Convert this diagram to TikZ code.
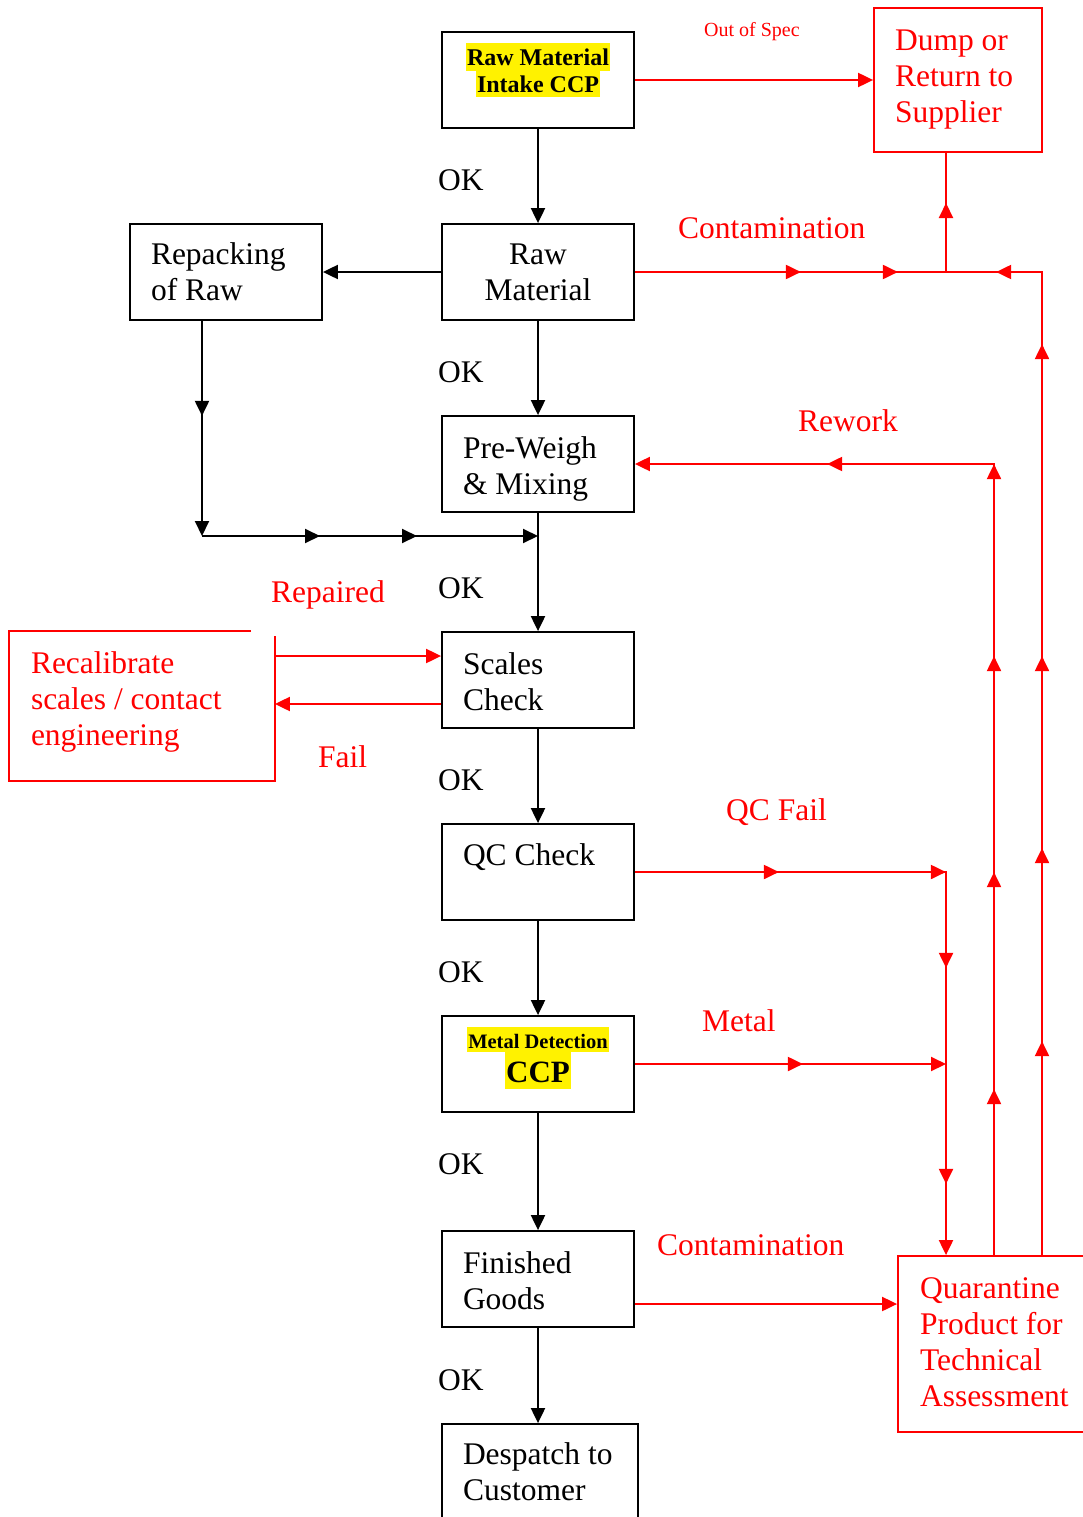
\documentclass[tikz,border=0pt]{standalone}
\usepackage{fontspec}
\setmainfont{Liberation Serif}
\usetikzlibrary{arrows.meta,decorations.markings}
\newcommand{\mainfs}{\fontsize{31.5}{36}\selectfont}
\begin{document}
\begin{tikzpicture}[x=1pt,y=-1pt,
  every node/.style={inner sep=0pt},
  box/.style={draw=black, line width=1.8pt, minimum width=192pt, minimum height=96pt, font=\mainfs},
  lbox/.style={box, text width=150pt, align=flush left},
  cbox/.style={box, align=center},
  rbox/.style={draw=red, line width=1.8pt, text=red, font=\mainfs, align=flush left},
  lab/.style={font=\mainfs, anchor=base west},
  rlab/.style={lab, text=red},
  hl/.style={fill=yellow, inner xsep=1pt, anchor=base},
  tipshape/.style={},
  conn/.style={line width=2pt, -{Triangle[length=15pt,width=14pt]}},
  rconn/.style={conn, red},
  rline/.style={line width=2pt, red},
  marr/.style={postaction={decorate, decoration={markings, mark=at position #1 with {\arrow{Triangle[length=15pt,width=14pt]}}}}},
]
\useasboundingbox (0,0) rectangle (1082,1517);

% main column boxes
\node[cbox] (intake) at (538,80) {};
\node[hl, font=\bfseries\fontsize{24}{27}\selectfont, text height=23pt, text depth=5pt] (intake1) at (538,66) {Raw Material};
\node[hl, font=\bfseries\fontsize{24}{27}\selectfont, text height=22pt, text depth=4pt] (intake2) at (538,93) {Intake CCP};
\node[cbox] (raw) at (538,272) {Raw\\Material};
\node[lbox, text depth=33pt] (pre) at (538,464) {Pre-Weigh\\\& Mixing};
\node[lbox, text depth=33pt] (scales) at (538,680) {Scales\\Check};
\node[lbox, text depth=35pt] (qc) at (538,872) {QC Check\\\phantom{g}};
\node[cbox] (md) at (538,1064) {};
\node[hl, font=\bfseries\fontsize{20.5}{24}\selectfont, text height=21pt, text depth=4pt] (md1) at (538,1048) {Metal Detection};
\node[hl, font=\bfseries\fontsize{31}{36}\selectfont, text height=30pt, text depth=7pt] (md2) at (538,1082) {CCP};
\node[lbox, text depth=32pt] (fg) at (538,1279) {Finished\\Goods};
\node[lbox, minimum width=196pt, text width=154pt] (desp) at (540,1472) {Despatch to\\Customer};

% side boxes
\node[lbox] (rep) at (226,272) {Repacking\\of Raw};
\node[rbox, minimum width=168pt, minimum height=144pt, text width=126pt] (dump) at (958,80) {Dump or\\Return to\\Supplier};
\node[rbox, minimum width=204pt, minimum height=176pt, text width=160pt, text depth=112pt] (quar) at (1000,1344) {Quarantine\\Product for\\Technical\\Assessment};
\node[rbox, draw=none, minimum width=264pt, minimum height=148pt, text width=222pt, text depth=87pt] (recal) at (142,706) {Recalibrate\\scales / contact\\engineering};
\draw[red, line width=1.8pt] ([xshift=242pt]recal.north west) -- (recal.north west) -- (recal.south west) -- (recal.south east) -- ([yshift=-5pt]recal.north east);

% black connectors
\draw[conn] (intake) -- (raw);
\draw[conn] (raw) -- (pre);
\draw[conn] (pre) -- (scales);
\draw[conn] (scales) -- (qc);
\draw[conn] (qc) -- (md);
\draw[conn] (md) -- (fg);
\draw[conn] (fg.south) -- (fg.south |- desp.north);
\draw[conn] (raw.west) -- (rep.east);
\coordinate (jl) at (202,536);
\coordinate (jr) at (538,536);
\draw[conn, marr=95pt] (rep.south -| jl) -- (jl);
\draw[conn, marr=118pt, marr=215pt] (jl) -- (jr);

% red connectors
\draw[rconn] (intake.east) -- (dump.west);
\coordinate (jt) at (946,272);
\coordinate (rc) at (1042,272);
\coordinate (rw) at (994,464);
\coordinate (qf) at (946,872);
\draw[rline, marr=166pt, marr=263pt] (raw.east) -- (jt);
\draw[rline, marr=69pt] (jt) -- (jt |- dump.south);
\draw[rline, marr=214pt, marr=407pt, marr=599pt, marr=911pt, marr=1029pt] (rc |- quar.north) -- (rc) -- (jt);
\draw[rconn, marr=166pt, marr=383pt, marr=599pt, marr=791pt, marr=958pt] (rw |- quar.north) -- (rw) -- (pre.east);
\draw[rconn, marr=144pt, marr=311pt, marr=407pt, marr=623pt] (qc.east) -- (qf) -- (qf |- quar.north);
\draw[rconn, marr=168pt] (md.east) -- (md.east -| qf);
\draw[rconn] ([yshift=-25pt]fg.east) -- ([yshift=-25pt]fg.east -| quar.west);
\draw[rconn] ([yshift=24pt]scales.west -| recal.east) -- ([yshift=24pt]scales.west);
\draw[rconn] ([yshift=-24pt]scales.west) -- ([yshift=-24pt]scales.west -| recal.east);

% labels
\node[lab] (ok1) at (438,190) {OK};
\node[lab] (ok2) at (438,382) {OK};
\node[lab] (ok3) at (438,598) {OK};
\node[lab] (ok4) at (438,790) {OK};
\node[lab] (ok5) at (438,982) {OK};
\node[lab] (ok6) at (438,1174) {OK};
\node[lab] (ok7) at (438,1390) {OK};
\node[rlab, font=\fontsize{20}{24}\selectfont] (oos) at (704,37) {Out of Spec};
\node[rlab] (cont1) at (678,238) {Contamination};
\node[rlab] (rework) at (798,431) {Rework};
\node[rlab] (repaired) at (271,602) {Repaired};
\node[rlab] (fail) at (318,767) {Fail};
\node[rlab] (qcfail) at (726,820) {QC Fail};
\node[rlab] (metal) at (702,1031) {Metal};
\node[rlab] (cont2) at (657,1255) {Contamination};
\end{tikzpicture}
\end{document}
